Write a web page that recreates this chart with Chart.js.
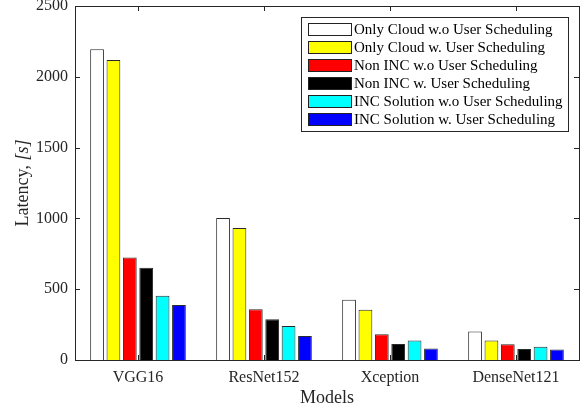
<!DOCTYPE html>
<html>
<head>
<meta charset="utf-8">
<script src="https://cdn.jsdelivr.net/npm/chart.js@4/dist/chart.umd.min.js"></script>
<style>
  html, body { margin: 0; padding: 0; background: #fff; }
  #wrap { width: 585px; height: 410px; }
</style>
</head>
<body>
<div id="wrap"><canvas id="latencyChart" width="585" height="410"></canvas></div>
<script>
// Data
const categories = ['VGG16', 'ResNet152', 'Xception', 'DenseNet121'];
const seriesNames = [
  'Only Cloud w.o User Scheduling',
  'Only Cloud w. User Scheduling',
  'Non INC w.o User Scheduling',
  'Non INC w. User Scheduling',
  'INC Solution w.o User Scheduling',
  'INC Solution w. User Scheduling'
];
const onlyCloudNoSched = [2194, 1003, 426, 202];
const onlyCloudSched   = [2119, 932, 355, 137];
const nonIncNoSched    = [723, 358, 181, 111];
const nonIncSched      = [652, 287, 113, 78];
const incNoSched       = [454, 240, 137, 94];
const incSched         = [388, 170, 82, 75];
const yTicks = [0, 500, 1000, 1500, 2000, 2500];

const seriesValues = [onlyCloudNoSched, onlyCloudSched, nonIncNoSched, nonIncSched, incNoSched, incSched];
const colors = ['#ffffff', '#ffff00', '#ff0000', '#000000', '#00ffff', '#0000ff'];
const FONT = '"Liberation Serif", "Times New Roman", serif';

// frame, inward ticks, axis titles and boxed legend
const decor = {
  id: 'decor',
  afterDatasetsDraw(chart) {
    const ctx = chart.ctx;
    const a = chart.chartArea;
    const x = chart.scales.x, y = chart.scales.y;
    ctx.save();
    ctx.strokeStyle = '#262626';
    ctx.lineWidth = 1;
    ctx.strokeRect(Math.round(a.left) + 0.5, Math.round(a.top) + 0.5,
                   Math.round(a.right - a.left), Math.round(a.bottom - a.top));
    ctx.beginPath();
    yTicks.forEach(v => {
      const py = Math.round(y.getPixelForValue(v)) + 0.5;
      ctx.moveTo(a.left, py); ctx.lineTo(a.left + 5, py);
      ctx.moveTo(a.right, py); ctx.lineTo(a.right - 5, py);
    });
    categories.forEach((c, i) => {
      const px = Math.round(x.getPixelForValue(i)) + 0.5;
      ctx.moveTo(px, a.bottom); ctx.lineTo(px, a.bottom - 5);
      ctx.moveTo(px, a.top); ctx.lineTo(px, a.top + 5);
    });
    ctx.stroke();

    // axis titles
    ctx.fillStyle = '#262626';
    ctx.font = '18px ' + FONT;
    ctx.textAlign = 'center';
    ctx.textBaseline = 'middle';
    ctx.fillText('Models', (a.left + a.right) / 2, 398);

    ctx.save();
    ctx.translate(23, (a.top + a.bottom) / 2);
    ctx.rotate(-Math.PI / 2);
    const t1 = 'Latency, ';
    const t2 = '[s]';
    ctx.font = '18px ' + FONT;
    const w1 = ctx.measureText(t1).width;
    ctx.font = 'italic 18px ' + FONT;
    const w2 = ctx.measureText(t2).width;
    ctx.textAlign = 'left';
    ctx.font = '18px ' + FONT;
    ctx.fillText(t1, -(w1 + w2) / 2, 0);
    ctx.font = 'italic 18px ' + FONT;
    ctx.fillText(t2, -(w1 + w2) / 2 + w1, 0);
    ctx.restore();

    // legend
    const lx = 301, ly = 17, lw = 267, lh = 114;
    ctx.fillStyle = '#fff';
    ctx.fillRect(lx, ly, lw, lh);
    ctx.strokeStyle = '#262626';
    ctx.strokeRect(lx + 0.5, ly + 0.5, lw, lh);
    ctx.font = '15px ' + FONT;
    ctx.textAlign = 'left';
    ctx.textBaseline = 'middle';
    chart.data.datasets.forEach((ds, i) => {
      const ry = ly + 6 + i * 18;
      ctx.fillStyle = ds.backgroundColor;
      ctx.fillRect(308, ry, 43, 12);
      ctx.strokeStyle = '#222';
      ctx.strokeRect(308.5, ry + 0.5, 43, 12);
      ctx.fillStyle = '#000';
      ctx.fillText(ds.label, 354, ry + 7);
    });
    ctx.restore();
  }
};

new Chart(document.getElementById('latencyChart').getContext('2d'), {
  type: 'bar',
  data: {
    labels: categories,
    datasets: seriesNames.map((name, i) => ({
      label: name,
      data: seriesValues[i],
      backgroundColor: colors[i],
      borderColor: '#2a2a2a',
      borderWidth: 1,
      categoryPercentage: 0.78,
      barPercentage: 0.84
    }))
  },
  options: {
    responsive: false,
    animation: false,
    layout: { padding: { top: 6, right: 6, left: 0, bottom: 0 } },
    plugins: { legend: { display: false }, tooltip: { enabled: false } },
    scales: {
      x: {
        grid: { display: false, drawTicks: false },
        border: { display: false },
        ticks: { color: '#262626', font: { family: FONT, size: 16 }, padding: 8 },
        afterFit(s) { s.height = 50; s.paddingLeft = 0; s.paddingRight = 0; }
      },
      y: {
        min: 0, max: 2500,
        grid: { display: false, drawTicks: false },
        border: { display: false },
        ticks: {
          stepSize: 500, color: '#262626', font: { family: FONT, size: 16 }, padding: 7,
          callback: v => String(v)
        },
        afterFit(s) { s.width = 75; s.paddingTop = 0; s.paddingBottom = 0; }
      }
    }
  },
  plugins: [decor]
});
</script>
</body>
</html>
